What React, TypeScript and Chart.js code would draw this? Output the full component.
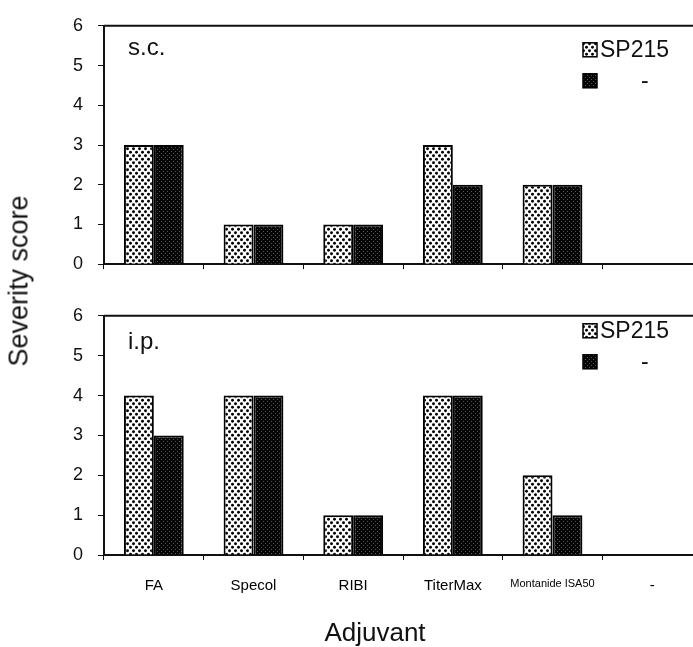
import React, { useEffect, useRef } from 'react';
import { Chart, registerables } from 'chart.js';

Chart.register(...registerables);

const categories = ['FA', 'Specol', 'RIBI', 'TiterMax', 'Montanide ISA50', '-'];
const seriesNames = ['SP215', '-'];
const scSP215 = [3, 1, 1, 3, 2, 0];
const scControl = [3, 1, 1, 2, 2, 0];
const ipSP215 = [4, 4, 1, 4, 2, 0];
const ipControl = [3, 4, 1, 4, 1, 0];
const yMin = 0;
const yMax = 6;
const yStep = 1;

const FONT = 'Arial, "Liberation Sans", Helvetica, sans-serif';

function dotPattern(): CanvasPattern | string {
  const c = document.createElement('canvas');
  c.width = 6;
  c.height = 7;
  const g = c.getContext('2d');
  if (!g) return '#ccc';
  g.fillStyle = '#fff';
  g.fillRect(0, 0, 6, 7);
  g.fillStyle = '#000';
  const pts = [[1.5, 1.75], [4.5, 5.25]];
  pts.forEach(([x, y]) => {
    g.beginPath();
    g.arc(x, y, 1.45, 0, Math.PI * 2);
    g.fill();
  });
  return g.createPattern(c, 'repeat') || '#ccc';
}

function darkPattern(): CanvasPattern | string {
  const c = document.createElement('canvas');
  c.width = 4;
  c.height = 4;
  const g = c.getContext('2d');
  if (!g) return '#111';
  g.fillStyle = '#050505';
  g.fillRect(0, 0, 4, 4);
  g.fillStyle = '#555';
  g.fillRect(1, 1, 1, 1);
  g.fillRect(3, 3, 1, 1);
  return g.createPattern(c, 'repeat') || '#111';
}

const panelDecor = {
  id: 'panelDecor',
  afterDraw(chart: any, _args: any, o: any) {
    const { ctx, chartArea } = chart;
    ctx.save();
    ctx.strokeStyle = '#111';
    ctx.lineWidth = 2;
    ctx.beginPath();
    ctx.moveTo(chartArea.left, chartArea.top);
    ctx.lineTo(chartArea.right, chartArea.top);
    ctx.stroke();
    ctx.fillStyle = '#111';
    ctx.font = `24px ${FONT}`;
    ctx.textBaseline = 'alphabetic';
    ctx.textAlign = 'left';
    ctx.fillText(o.label, chartArea.left + o.labelDx, chartArea.top + o.labelDy);
    chart.data.datasets.forEach((ds: any, i: number) => {
      const bx = chartArea.left + 479;
      const by = chartArea.top + o.legendDy + i * 31;
      ctx.fillStyle = ds.backgroundColor;
      ctx.fillRect(bx, by, 14, 14);
      ctx.strokeStyle = '#000';
      ctx.lineWidth = 1.5;
      ctx.strokeRect(bx, by, 14, 14);
      ctx.fillStyle = '#111';
      ctx.font = `23px ${FONT}`;
      ctx.textBaseline = 'middle';
      ctx.fillText(ds.label, i === 0 ? bx + 17 : bx + 58, by + 8);
    });
    ctx.restore();
  },
};

function makeConfig(a: number[], b: number[], label: string, bottom: boolean, legendDy: number, labelDy: number): any {
  return {
    type: 'bar',
    data: {
      labels: categories,
      datasets: [
        {
          label: seriesNames[0],
          data: a,
          backgroundColor: dotPattern(),
          borderColor: '#000',
          borderWidth: 2,
          categoryPercentage: 0.6,
          barPercentage: 1.0,
        },
        {
          label: seriesNames[1],
          data: b,
          backgroundColor: darkPattern(),
          borderColor: '#000',
          borderWidth: 2,
          categoryPercentage: 0.6,
          barPercentage: 1.0,
        },
      ],
    },
    options: {
      animation: false,
      responsive: false,
      maintainAspectRatio: false,
      layout: { padding: { left: 0, right: 0, top: bottom ? 14 : 15, bottom: 0 } },
      plugins: {
        legend: { display: false },
        tooltip: { enabled: false },
        panelDecor: { label, labelDx: 24, labelDy, legendDy },
      },
      scales: {
        x: {
          offset: true,
          grid: { display: true, drawOnChartArea: false, drawTicks: true, tickLength: 5, color: '#111', offset: true },
          border: { display: true, color: '#111', width: 2 },
          ticks: {
            display: bottom,
            color: '#000',
            padding: 17,
            font: (ctx: any) => ({ family: FONT, size: ctx.index === 4 ? 11 : 15 }),
            maxRotation: 0,
            autoSkip: false,
          },
          afterFit: (s: any) => {
            s.height = bottom ? 92 : 19;
          },
        },
        y: {
          min: yMin,
          max: yMax,
          ticks: { stepSize: yStep, color: '#111', padding: 15, font: { family: FONT, size: 18 } },
          grid: { drawOnChartArea: false, drawTicks: true, tickLength: 6, color: '#111' },
          border: { display: true, color: '#111', width: 2 },
          afterFit: (s: any) => {
            s.width = 104;
          },
        },
      },
    },
    plugins: [panelDecor],
  };
}

export default function App() {
  const topRef = useRef<HTMLCanvasElement>(null);
  const botRef = useRef<HTMLCanvasElement>(null);

  useEffect(() => {
    if (!topRef.current || !botRef.current) return;
    const c1 = new Chart(topRef.current, makeConfig(scSP215, scControl, 's.c.', false, 17, 29));
    const c2 = new Chart(botRef.current, makeConfig(ipSP215, ipControl, 'i.p.', true, 8, 33));
    return () => {
      c1.destroy();
      c2.destroy();
    };
  }, []);

  return (
    <div style={{ position: 'absolute', left: 0, top: 0, width: 693, height: 647, overflow: 'hidden', background: '#fff' }}>
      <canvas ref={topRef} width={702} height={290} style={{ position: 'absolute', left: 0, top: 0, width: 702, height: 290 }} />
      <canvas ref={botRef} width={702} height={357} style={{ position: 'absolute', left: 0, top: 290, width: 702, height: 357 }} />
      <div
        style={{
          position: 'absolute',
          left: 19,
          top: 281,
          transform: 'translate(-50%, -50%) rotate(-90deg)',
          whiteSpace: 'nowrap',
          fontFamily: FONT,
          fontSize: 27,
          color: '#111',
          lineHeight: 1,
        }}
      >
        Severity score
      </div>
      <div
        style={{
          position: 'absolute',
          left: 375,
          top: 632,
          transform: 'translate(-50%, -50%)',
          whiteSpace: 'nowrap',
          fontFamily: FONT,
          fontSize: 26,
          color: '#111',
          lineHeight: 1,
        }}
      >
        Adjuvant
      </div>
    </div>
  );
}
